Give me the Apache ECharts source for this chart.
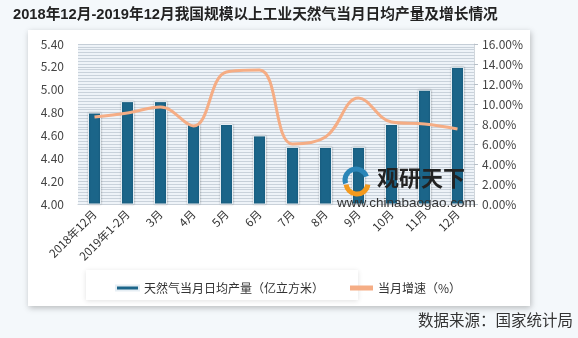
<!DOCTYPE html>
<html><head><meta charset="utf-8">
<script src="https://cdn.jsdelivr.net/npm/echarts@6/dist/echarts.min.js"></script>
<style>html,body{margin:0;padding:0;background:#f4f8fb;}#c{width:578px;height:338px;}</style>
</head><body><div id="c"></div>
<script>
var categories = ['2018年12月','2019年1-2月','3月','4月','5月','6月','7月','8月','9月','10月','11月','12月'];
var production = [4.80, 4.90, 4.90, 4.70, 4.70, 4.60, 4.50, 4.50, 4.50, 4.70, 5.00, 5.20];
var growth = [8.7, 9.1, 9.7, 7.8, 13.2, 13.4, 6.0, 6.7, 10.6, 8.2, 8.0, 7.5];
var leftTicks = {min: 4.0, max: 5.4, interval: 0.2};
var rightTicks = {min: 0, max: 16, interval: 2};
var seriesNames = ['天然气当月日均产量（亿立方米）', '当月增速（%）'];
var titleText = '2018年12月-2019年12月我国规模以上工业天然气当月日均产量及增长情况';
var sourceText = '数据来源：国家统计局';

var FONT = '"Noto Sans CJK SC", "Noto Sans", sans-serif';
var chart = echarts.init(document.getElementById('c'), null, {renderer: 'canvas'});
chart.setOption({
  backgroundColor: '#f4f8fb',
  animation: false,
  title: {
    text: titleText, left: 8, top: 3,
    textStyle: {fontSize: 14.7, fontWeight: 'bold', color: '#222', fontFamily: 'Liberation Sans, "Noto Sans CJK SC", sans-serif'}
  },
  graphic: [
    {type: 'rect', z: -10, shape: {x: 28, y: 30, width: 502, height: 276},
     style: {fill: '#fff', shadowBlur: 6, shadowColor: 'rgba(0,0,0,0.25)', shadowOffsetX: 1, shadowOffsetY: 2}},
    {type: 'rect', z: -9, shape: {x: 86, y: 270, width: 272, height: 30},
     style: {fill: '#fff', shadowBlur: 5, shadowColor: 'rgba(0,0,0,0.12)', shadowOffsetX: 0, shadowOffsetY: 1}},
    {type: 'arc', z: 5, shape: {cx: 356, cy: 180, r: 11, startAngle: Math.PI * 0.9, endAngle: Math.PI * 1.9},
     style: {stroke: '#2b86b8', lineWidth: 5, fill: null}},
    {type: 'arc', z: 5, shape: {cx: 357, cy: 183, r: 11, startAngle: Math.PI * 0.05, endAngle: Math.PI * 0.95},
     style: {stroke: '#f39a1e', lineWidth: 5, fill: null}},
    {type: 'text', z: 5, left: 377, top: 167,
     style: {text: '观研天下', fill: '#222', font: 'bold 22px "Noto Sans CJK SC", sans-serif'}},
    {type: 'text', z: 5, left: 337, top: 196,
     style: {text: 'www.chinabaogao.com', fill: '#333', font: '13.5px "Liberation Sans", sans-serif'}},
    {type: 'text', right: 5, top: 312,
     style: {text: sourceText, fill: '#333', font: '15.5px "Noto Sans CJK SC", sans-serif'}}
  ],
  legend: {
    left: 110, top: 277, itemGap: 26, itemWidth: 23, itemHeight: 5,
    textStyle: {fontSize: 12, color: '#333', fontFamily: FONT},
    data: [{name: seriesNames[0], icon: 'rect'}, {name: seriesNames[1], icon: 'rect'}]
  },
  grid: {left: 78, right: 104, top: 44, bottom: 134, show: true, backgroundColor: '#eef3f8', borderWidth: 0},
  xAxis: {
    type: 'category', data: categories,
    axisLine: {show: true, lineStyle: {color: '#c9d1d9'}},
    axisTick: {show: false},
    axisLabel: {interval: 0, rotate: 45, fontSize: 11.5, color: '#333', fontFamily: FONT, margin: 8}
  },
  yAxis: [
    {type: 'value', min: leftTicks.min, max: leftTicks.max, interval: leftTicks.interval,
     axisLine: {show: false}, axisTick: {show: false},
     axisLabel: {formatter: function(v){return v.toFixed(2);}, fontSize: 12, color: '#444', margin: 14, fontFamily: FONT},
     splitLine: {show: true, lineStyle: {color: '#c5ced7', width: 1}},
     minorTick: {show: false, splitNumber: 8},
     minorSplitLine: {show: true, lineStyle: {color: '#c9d2db', width: 1}}},
    {type: 'value', min: rightTicks.min, max: rightTicks.max, interval: rightTicks.interval,
     axisLine: {show: true, lineStyle: {color: '#d0d6dc'}},
     axisTick: {show: true, length: 4, lineStyle: {color: '#b8c0c8'}},
     axisLabel: {formatter: function(v){return v.toFixed(2) + '%';}, fontSize: 12, color: '#444', margin: 8, fontFamily: FONT},
     splitLine: {show: false}}
  ],
  series: [
    {name: seriesNames[0], type: 'bar', data: production, yAxisIndex: 0, barWidth: 13,
     itemStyle: {color: '#1b6589', borderColor: '#e6eef4', borderWidth: 1, shadowBlur: 2, shadowColor: 'rgba(0,0,0,0.25)'}},
    {name: seriesNames[1], type: 'line', data: growth, yAxisIndex: 1, smooth: 0.4,
     symbol: 'none', lineStyle: {color: '#f5ad85', width: 3}, itemStyle: {color: '#f5ad85'}, z: 3}
  ]
});
</script></body></html>
